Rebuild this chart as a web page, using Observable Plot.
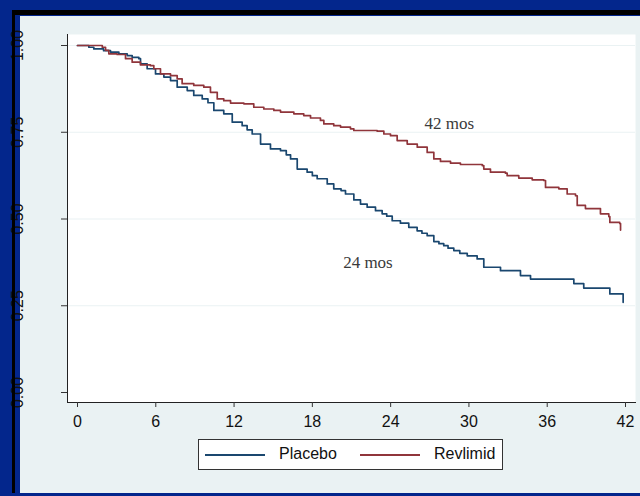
<!DOCTYPE html>
<html>
<head>
<meta charset="utf-8">
<script src="https://cdn.jsdelivr.net/npm/d3@7"></script>
<script src="https://cdn.jsdelivr.net/npm/@observablehq/plot@0.6"></script>
<style>
  html, body { margin: 0; padding: 0; }
  #root { position: relative; width: 640px; height: 496px; background: #03268c; overflow: hidden;
          font-family: "Liberation Sans", Arial, sans-serif; }
  #panel { position: absolute; left: 20px; top: 16px; width: 620px; height: 477px; background: #eaf2f3; }
  #chart { position: absolute; left: 0; top: 0; }
  .edge { position: absolute; background: #000; }
  #legend { position: absolute; left: 198px; top: 439px; width: 303px; height: 29px; background: #fff;
            border: 1px solid #333; }
  .key { position: absolute; top: 14px; height: 0; width: 60px; border-top: 2px solid; }
  .lab { position: absolute; top: 5px; font-size: 16px; line-height: 18px; color: #111; }
</style>
</head>
<body>
<div id="root">
  <div id="panel"></div>
  <div id="chart"></div>
  <div id="legend"></div>
  <div class="edge" style="left:12px;top:10px;width:3px;height:483px"></div>
  <div class="edge" style="left:12px;top:10px;width:628px;height:5px"></div>
</div>
<script>
// Kaplan–Meier estimates: months since randomisation and surviving fraction at each step
const placeboMonths = [0, 0.87, 1.25, 2.0, 2.53, 3.17, 3.81, 4.19, 4.70, 4.83, 5.34, 5.98, 6.62, 7.13, 7.64, 8.41,
  8.91, 9.56, 10.0, 10.45, 11.21, 11.86, 12.62, 13.0, 13.39, 14.03, 14.79, 15.56, 16.0, 16.33, 16.84, 17.60,
  18.0, 18.37, 19.14, 19.64, 20.2, 20.54, 21.18, 21.69, 22.20, 22.84, 23.35, 23.7, 24.12, 24.75, 25.39, 26.03,
  26.4, 26.80, 27.31, 27.7, 28.07, 28.4, 28.84, 29.3, 29.87, 30.63, 31.14, 32.42, 33.95, 34.72, 38.04, 38.80,
  40.80, 41.82];
const placeboSurv = [1.000, 0.995, 0.990, 0.985, 0.981, 0.976, 0.971, 0.966, 0.962, 0.947, 0.933, 0.918, 0.909,
  0.899, 0.880, 0.870, 0.856, 0.846, 0.835, 0.813, 0.803, 0.779, 0.769, 0.757, 0.745, 0.716, 0.702, 0.697, 0.685,
  0.673, 0.644, 0.635, 0.625, 0.616, 0.601, 0.587, 0.582, 0.572, 0.555, 0.543, 0.534, 0.524, 0.515, 0.508, 0.495,
  0.488, 0.476, 0.466, 0.459, 0.452, 0.435, 0.429, 0.423, 0.416, 0.409, 0.401, 0.394, 0.385, 0.361, 0.351, 0.337,
  0.327, 0.314, 0.301, 0.284, 0.260];

const revlimidMonths = [0, 1.9, 2.15, 2.40, 3.04, 3.68, 4.19, 4.83, 5.59, 5.85, 6.36, 7.13, 7.64, 8.02, 8.91, 9.68,
  10.19, 10.71, 11.21, 11.73, 12.75, 13.51, 14.28, 15.05, 15.56, 16.58, 17.34, 17.86, 18.62, 18.88, 19.64, 20.16,
  20.92, 21.18, 22.97, 23.48, 23.99, 24.50, 25.27, 26.04, 26.80, 27.31, 27.82, 28.59, 29.35, 31.02, 31.14, 31.65,
  32.80, 32.93, 33.82, 34.85, 35.74, 35.87, 36.89, 37.53, 38.17, 38.30, 38.93, 40.08, 40.72, 40.80, 41.56, 41.62];
const revlimidSurv = [1.000, 0.995, 0.986, 0.976, 0.974, 0.962, 0.952, 0.944, 0.942, 0.933, 0.918, 0.913, 0.904,
  0.890, 0.885, 0.880, 0.865, 0.846, 0.841, 0.834, 0.832, 0.822, 0.817, 0.813, 0.808, 0.803, 0.798, 0.791, 0.784,
  0.774, 0.769, 0.765, 0.760, 0.755, 0.753, 0.745, 0.740, 0.726, 0.716, 0.707, 0.692, 0.673, 0.666, 0.661, 0.657,
  0.654, 0.644, 0.635, 0.632, 0.625, 0.618, 0.613, 0.611, 0.591, 0.587, 0.572, 0.567, 0.539, 0.530, 0.515, 0.507,
  0.490, 0.487, 0.468];

const seriesNames = ["Placebo", "Revlimid"];
const seriesColors = ["#1a476f", "#90353b"];

const xTicks = [0, 6, 12, 18, 24, 30, 36, 42];
const yTicks = [0, 0.25, 0.5, 0.75, 1];
const gridTicks = [0.25, 0.5, 0.75, 1];

// Median follow-up annotations
const noteText = ["42 mos", "24 mos"];
const noteMonth = [28.5, 22.26];
const noteSurv = [0.776, 0.374];

const rows = [
  ...placeboMonths.map((m, i) => ({group: seriesNames[0], month: m, surv: placeboSurv[i]})),
  ...revlimidMonths.map((m, i) => ({group: seriesNames[1], month: m, surv: revlimidSurv[i]}))
];
const notes = noteText.map((t, i) => ({t, month: noteMonth[i], surv: noteSurv[i]}));

const chart = Plot.plot({
  width: 640,
  height: 440,
  marginLeft: 67,
  marginRight: 5,
  marginTop: 34,
  marginBottom: 38,
  style: {background: "transparent", fontFamily: "'Liberation Sans', Arial, sans-serif", color: "#111"},
  x: {domain: [0, 42], insetLeft: 10, insetRight: 10},
  y: {domain: [0, 1], insetTop: 11, insetBottom: 10},
  color: {domain: seriesNames, range: seriesColors},
  marks: [
    Plot.frame({fill: "white", stroke: null}),
    Plot.ruleY(gridTicks, {stroke: "#eaf2f3", strokeWidth: 1.2}),
    Plot.frame({anchor: "left", stroke: "#222"}),
    Plot.frame({anchor: "bottom", stroke: "#222"}),
    Plot.axisX({ticks: xTicks, tickSize: 5, tickPadding: 8, fontSize: 16, label: null, stroke: "#333"}),
    Plot.axisY({ticks: yTicks, tickSize: 6, tickFormat: () => "", label: null, stroke: "#333"}),
    Plot.text(yTicks, {y: d => d, text: d => d.toFixed(2), frameAnchor: "left", textAnchor: "middle",
      dx: -49.5, rotate: -90, fontSize: 16, fill: "#111"}),
    Plot.line(rows, {x: "month", y: "surv", z: "group", stroke: "group", curve: "step-after", strokeWidth: 1.7}),
    Plot.text(notes, {x: "month", y: "surv", text: "t", fontSize: 17, fill: "#3a3a3a",
      fontFamily: "'Liberation Serif', 'Times New Roman', serif"})
  ]
});
document.getElementById("chart").appendChild(chart);

// Legend box beneath the axis
const legend = document.getElementById("legend");
const keyLeft = [6, 161];
const labLeft = [80, 235];
seriesNames.forEach((name, i) => {
  const k = document.createElement("div");
  k.className = "key";
  k.style.left = keyLeft[i] + "px";
  k.style.borderTopColor = seriesColors[i];
  legend.appendChild(k);
  const l = document.createElement("div");
  l.className = "lab";
  l.style.left = labLeft[i] + "px";
  l.textContent = name;
  legend.appendChild(l);
});
</script>
</body>
</html>
